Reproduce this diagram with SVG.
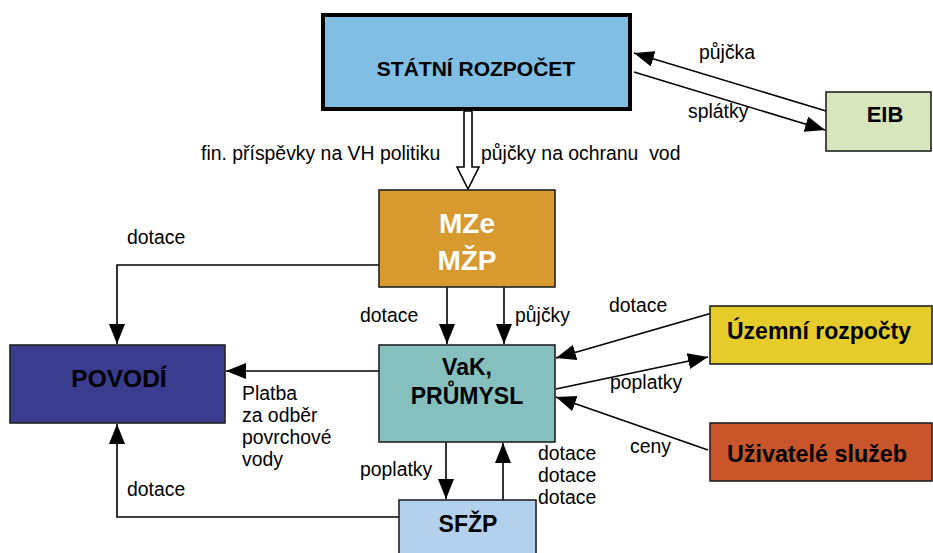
<svg xmlns="http://www.w3.org/2000/svg" width="933" height="553" viewBox="0 0 933 553">
<defs>
<marker id="ah" viewBox="0 0 20 16" refX="20" refY="8" markerWidth="20" markerHeight="16" markerUnits="userSpaceOnUse" orient="auto">
<path d="M0,0 L20,8 L0,16 Z" fill="#000"/>
</marker>
<style>
.box{stroke:#222;stroke-width:1.6}
.ln{fill:none;stroke:#000;stroke-width:1.6}
.lbl{font-family:"Liberation Sans",Arial,sans-serif;font-size:19.4px;fill:#000;white-space:pre}
.ttl{font-family:"Liberation Sans",Arial,sans-serif;font-weight:bold;fill:#000;text-anchor:middle}
</style>
</defs>
<rect width="933" height="553" fill="#fff"/>

<g id="connectors">
<line class="ln" x1="826" y1="111" x2="634" y2="53" marker-end="url(#ah)"/>
<line class="ln" x1="634" y1="72" x2="825" y2="130" marker-end="url(#ah)"/>
<polygon points="464,111 464,167 457,167 468,189 479,167 472,167 472,111" fill="#fff" stroke="#000" stroke-width="1.6"/>
<polyline class="ln" points="379,265 117,265 117,344" marker-end="url(#ah)"/>
<line class="ln" x1="447" y1="287" x2="447" y2="344" marker-end="url(#ah)"/>
<line class="ln" x1="504" y1="287" x2="504" y2="344" marker-end="url(#ah)"/>
<line class="ln" x1="379" y1="371" x2="226" y2="371" marker-end="url(#ah)"/>
<line class="ln" x1="446" y1="442" x2="446" y2="499" marker-end="url(#ah)"/>
<line class="ln" x1="503" y1="500" x2="503" y2="443" marker-end="url(#ah)"/>
<polyline class="ln" points="399,517 117,517 117,424" marker-end="url(#ah)"/>
<line class="ln" x1="712" y1="313" x2="556" y2="358" marker-end="url(#ah)"/>
<line class="ln" x1="556" y1="389" x2="708" y2="357" marker-end="url(#ah)"/>
<line class="ln" x1="708" y1="450" x2="556" y2="397" marker-end="url(#ah)"/>
<text class="lbl" x="699" y="59">půjčka</text>
<text class="lbl" x="688" y="118">splátky</text>
<text class="lbl" x="201" y="160">fin. příspěvky na VH politiku</text>
<text class="lbl" x="481" y="160">půjčky na ochranu  vod</text>
<text class="lbl" x="127" y="244">dotace</text>
<text class="lbl" x="360" y="322">dotace</text>
<text class="lbl" x="515" y="322">půjčky</text>
<text class="lbl" x="242" y="400">Platba</text>
<text class="lbl" x="242" y="422">za odběr</text>
<text class="lbl" x="242" y="444">povrchové</text>
<text class="lbl" x="242" y="466">vody</text>
<text class="lbl" x="360" y="476">poplatky</text>
<text class="lbl" x="538" y="460">dotace</text>
<text class="lbl" x="538" y="482">dotace</text>
<text class="lbl" x="538" y="504">dotace</text>
<text class="lbl" x="127" y="496">dotace</text>
<text class="lbl" x="609" y="312">dotace</text>
<text class="lbl" x="610" y="389">poplatky</text>
<text class="lbl" x="630" y="453">ceny</text>
</g>

<g id="statni-rozpocet">
<rect x="323" y="15" width="307" height="94" fill="#80bee4" stroke="#000" stroke-width="4"/>
<text class="ttl" x="476" y="76" font-size="21">STÁTNÍ ROZPOČET</text>
</g>
<g id="eib">
<rect class="box" x="826" y="92" width="105" height="59" fill="#d7e6bd"/>
<text class="ttl" x="885" y="122" font-size="22">EIB</text>
</g>
<g id="mze-mzp">
<rect class="box" x="379" y="190" width="176" height="97" fill="#d8992e"/>
<text class="ttl" x="467" y="233" font-size="28" style="fill:#fff">MZe</text>
<text class="ttl" x="467" y="270" font-size="28" style="fill:#fff">MŽP</text>
</g>
<g id="povodi">
<rect class="box" x="10" y="345" width="215" height="78" fill="#393c8f"/>
<text class="ttl" x="119" y="387" font-size="24.5">POVODÍ</text>
</g>
<g id="vak-prumysl">
<rect class="box" x="379" y="345" width="176" height="97" fill="#85bfbe"/>
<text class="ttl" x="467" y="375" font-size="23">VaK,</text>
<text class="ttl" x="467" y="404" font-size="23">PRŮMYSL</text>
</g>
<g id="sfzp">
<rect class="box" x="399" y="500" width="137" height="60" fill="#b3d0ec"/>
<text class="ttl" x="468" y="532" font-size="23">SFŽP</text>
</g>
<g id="uzemni-rozpocty">
<rect class="box" x="710" y="306" width="222" height="58" fill="#e5cc2b"/>
<text class="ttl" x="727" y="339" font-size="23" style="text-anchor:start">Územní rozpočty</text>
</g>
<g id="uzivatele-sluzeb">
<rect class="box" x="710" y="423" width="222" height="58" fill="#c9552a"/>
<text class="ttl" x="727" y="462" font-size="23.3" style="text-anchor:start">Uživatelé služeb</text>
</g>
</svg>
